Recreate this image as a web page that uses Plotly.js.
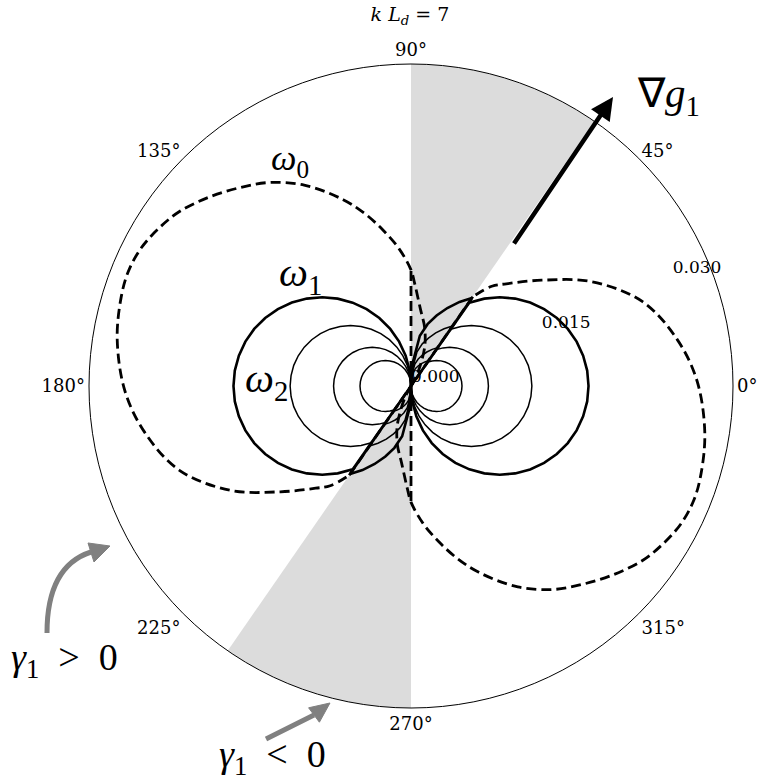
<!DOCTYPE html>
<html><head><meta charset="utf-8">
<script src="https://cdn.plot.ly/plotly-3.0.1.min.js"></script>
<style>html,body{margin:0;padding:0;background:#fff}#chart{width:757px;height:784px}</style>
</head><body><div id="chart"></div>
<script>
// ---- data ----
const R_MAX = 0.0341;
const radialTicks = [0, 0.015, 0.030];
const radialTickText = ['0.000', '0.015', '0.030'];
const radialLabelAngle = 22.5;
const angleTicks = [0, 45, 90, 135, 180, 225, 270, 315];
const angleTickText = ['0°', '45°', '90°', '135°', '180°', '225°', '270°', '315°'];

// shaded sectors (gamma_1 < 0)
const sectorStart = [55.3, 235.3];
const sectorEnd = [90, 270];

// one lobe (the other lobe is the same, turned by 180 degrees)
const lobeTheta = [-90,-85,-80,-75,-70,-65,-60,-55,-50,-45,-40,-35,-30,-25,-20,-15,-10,-5,0,5,10,15,20,25,30,35,40,45,50,55,55.3,55.3,60,65,70,75,80,85,90];
const omega1R = [0,.00164,.00326,.00487,.00643,.00794,.0094,.01078,.01208,.01329,.0144,.0154,.01628,.01704,.01767,.01816,.01851,.01873,.0188,.01873,.01851,.01816,.01767,.01704,.01628,.0154,.0144,.01329,.01208,.01078,0,.01133,.01028,.00911,.00794,.00678,.0054,.00265,0];
const omega2R = [0,.00112,.00222,.00331,.00438,.00541,.0064,.00734,.00823,.00905,.0098,.01049,.01108,.0116,.01203,.01236,.01261,.01275,.0128,.01275,.01261,.01236,.01203,.0116,.01108,.01049,.0098,.00905,.00823,.00734,0,.00772,.007,.0062,.0054,.00462,.00368,.0018,0];
const omega3R = [0,.00072,.00142,.00212,.0028,.00347,.0041,.0047,.00527,.0058,.00628,.00672,.0071,.00743,.00771,.00792,.00808,.00817,.0082,.00817,.00808,.00792,.00771,.00743,.0071,.00672,.00628,.0058,.00527,.0047,0,.00494,.00448,.00397,.00346,.00296,.00235,.00116,0];
const omega4R = [0,.00047,.00094,.0014,.00185,.00228,.0027,.0031,.00347,.00382,.00414,.00442,.00468,.00489,.00507,.00522,.00532,.00538,.0054,.00538,.00532,.00522,.00507,.00489,.00468,.00442,.00414,.00382,.00347,.0031,0,.00325,.00295,.00261,.00228,.00195,.00155,.00076,0];

// omega_0 (dashed), one lobe
const omega0Theta = [58,62,66,71,77,83,88,90,95,100,105,110,118,125,131,137,143,148,153,158,163,171,181,190,200,210,219,227,231,235.3];
const omega0R = [0,.0012,.0025,.0045,.0064,.0082,.0109,.0123,.0146,.0167,.0189,.021,.0241,.0263,.0278,.0293,.0307,.0315,.0321,.0323,.0321,.0315,.0303,.0286,.0261,.0221,.0178,.0148,.0136,.0115];
// omega_0 radial jumps (value 0 at 90 deg, drop at the sector edge)
const omega0JumpTheta = [90, 90, null, 235.3, 235.3];
const omega0JumpR = [0, .0123, null, .0115, 0];

// ---- build ----
function twoLobes(theta, r) {
  return { theta: theta.concat([null], theta.map(t => t === null ? null : t + 180)), r: r.concat([null], r) };
}
const W = 757, H = 784;
const px = (x, y) => (x / W).toFixed(5) + ',' + (1 - y / H).toFixed(5);
const serif = 'DejaVu Serif';
const mathFont = 'Liberation Serif';

const traces = [];
traces.push({
  type: 'barpolar',
  r: sectorStart.map(() => R_MAX),
  theta: sectorStart.map((s, i) => (s + sectorEnd[i]) / 2),
  width: sectorStart.map((s, i) => sectorEnd[i] - s),
  marker: { color: '#dcdcdc', line: { width: 0 } },
  hoverinfo: 'skip', showlegend: false
});
const dashStyle = { color: 'black', width: 2.8, dash: '10px,5px' };
const w0 = twoLobes(omega0Theta, omega0R);
traces.push({ type: 'scatterpolar', mode: 'lines', theta: w0.theta, r: w0.r, connectgaps: false,
  line: Object.assign({ shape: 'spline', smoothing: 1 }, dashStyle), showlegend: false, hoverinfo: 'skip' });
const j0 = twoLobes(omega0JumpTheta, omega0JumpR);
traces.push({ type: 'scatterpolar', mode: 'lines', theta: j0.theta, r: j0.r, connectgaps: false,
  line: dashStyle, showlegend: false, hoverinfo: 'skip' });
[omega4R, omega3R, omega2R].forEach(rr => {
  const c = twoLobes(lobeTheta, rr);
  traces.push({ type: 'scatterpolar', mode: 'lines', theta: c.theta, r: c.r, connectgaps: false,
    line: { color: 'black', width: 1.5 }, showlegend: false, hoverinfo: 'skip' });
});
const c1 = twoLobes(lobeTheta, omega1R);
traces.push({ type: 'scatterpolar', mode: 'lines', theta: c1.theta, r: c1.r, connectgaps: false,
  line: { color: 'black', width: 2.6 }, showlegend: false, hoverinfo: 'skip' });
// radial tick labels, placed at the ticks along the label angle
traces.push({ type: 'scatterpolar', mode: 'text', r: radialTicks, theta: radialTicks.map(() => radialLabelAngle),
  text: radialTickText, textposition: 'top right', cliponaxis: false,
  textfont: { family: serif, size: 17, color: 'black' }, showlegend: false, hoverinfo: 'skip' });

const sp = '\u2002';
const annotations = [
  { text: '<i>ω</i><sub>0</sub>', x: 290 / W, y: 1 - 160 / H, font: { family: mathFont, size: 36, color: 'black' } },
  { text: '<i>ω</i><sub>1</sub>', x: 300 / W, y: 1 - 275 / H, font: { family: mathFont, size: 41, color: 'black' } },
  { text: '<i>ω</i><sub>2</sub>', x: 266 / W, y: 1 - 381 / H, font: { family: mathFont, size: 41, color: 'black' } },
  { text: '∇<i>g</i><sub>1</sub>', x: 668 / W, y: 1 - 96 / H, font: { family: mathFont, size: 41, color: 'black' } },
  { text: '<i>γ</i><sub>1</sub>' + sp + '&gt;' + sp + '0', x: 64 / W, y: 1 - 660 / H, font: { family: mathFont, size: 38, color: 'black' } },
  { text: '<i>γ</i><sub>1</sub>' + sp + '&lt;' + sp + '0', x: 272 / W, y: 1 - 757 / H, font: { family: mathFont, size: 38, color: 'black' } },
  { text: '', x: 613 / W, y: 1 - 97 / H, ax: -100, ay: 148, showarrow: true,
    arrowhead: 2, arrowwidth: 4.5, arrowsize: 1.0, arrowcolor: 'black', standoff: 0 }
].map(a => Object.assign({ xref: 'paper', yref: 'paper', xanchor: 'center', yanchor: 'middle', showarrow: false }, a));

const grey = '#808080';
const shapes = [
  { type: 'path', xref: 'paper', yref: 'paper', path: 'M' + px(47, 633) + ' C' + px(47, 590) + ' ' + px(60, 562) + ' ' + px(91, 552),
    line: { color: grey, width: 5 } },
  { type: 'path', xref: 'paper', yref: 'paper', path: 'M' + px(110, 546) + ' L' + px(88, 543) + ' L' + px(94, 562) + ' Z',
    line: { color: grey, width: 1 }, fillcolor: grey },
  { type: 'path', xref: 'paper', yref: 'paper', path: 'M' + px(266, 739) + ' Q' + px(290, 727) + ' ' + px(314, 715),
    line: { color: grey, width: 5 } },
  { type: 'path', xref: 'paper', yref: 'paper', path: 'M' + px(330, 703) + ' L' + px(308.6, 707.8) + ' L' + px(319.4, 722.2) + ' Z',
    line: { color: grey, width: 1 }, fillcolor: grey }
];

const layout = {
  width: W, height: H,
  margin: { l: 0, r: 0, t: 0, b: 0 },
  paper_bgcolor: 'white',
  showlegend: false,
  title: { text: '<i>k</i> <i>L</i><sub><i>d</i></sub> = 7', x: 410 / W, xanchor: 'center', y: 1 - 14 / H, yanchor: 'middle',
    xref: 'paper', yref: 'container', font: { family: serif, size: 19, color: 'black' } },
  polar: {
    domain: { x: [89 / W, 733 / W], y: [(H - 708) / H, (H - 64) / H] },
    bgcolor: 'white',
    barmode: 'overlay',
    bargap: 0,
    angularaxis: {
      rotation: 0, direction: 'counterclockwise',
      tickmode: 'array', tickvals: angleTicks, ticktext: angleTickText,
      showgrid: false, ticks: '', showline: true, linecolor: 'black', linewidth: 1,
      tickfont: { family: serif, size: 18, color: 'black' }
    },
    radialaxis: {
      range: [0, R_MAX], tickmode: 'array', tickvals: radialTicks, ticktext: radialTickText,
      angle: radialLabelAngle, showticklabels: false, showgrid: false, showline: false, ticks: ''
    }
  },
  annotations: annotations,
  shapes: shapes
};
Plotly.newPlot('chart', traces, layout, { displayModeBar: false, staticPlot: true });
</script>
</body></html>
